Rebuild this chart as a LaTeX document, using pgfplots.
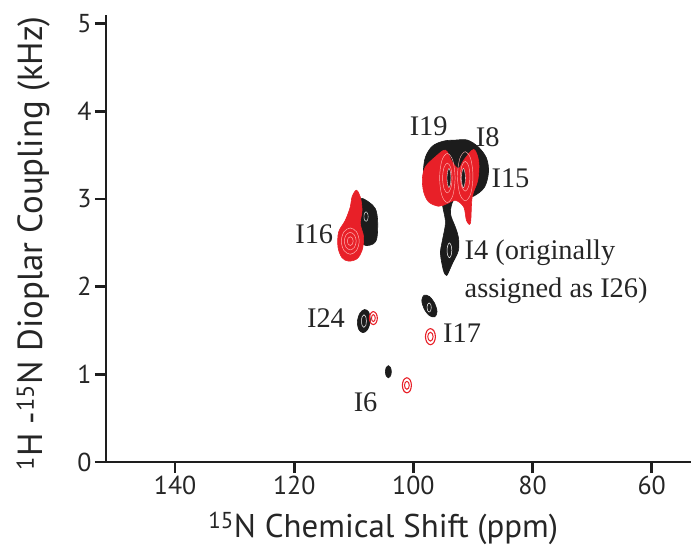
\documentclass[border=0pt]{standalone}
\usepackage{fontspec}
\setmainfont{Liberation Serif}
\setsansfont{PT Sans}
\usepackage{pgfplots}
\pgfplotsset{compat=1.18}
\definecolor{nmrred}{RGB}{232,32,40}
\definecolor{nmrpink}{RGB}{255,175,175}
\definecolor{nmrblk}{RGB}{28,28,28}
\definecolor{axgray}{RGB}{30,30,30}
\begin{document}
\begin{tikzpicture}
\begin{axis}[
  at={(0,0)}, anchor=south west,
  width=585bp, height=447bp, scale only axis,
  xmin=53.4, xmax=151.6, x dir=reverse,
  ymin=0, ymax=5.1,
  axis x line=bottom, axis y line=left,
  axis line style={-, line width=2.6bp, axgray},
  xtick={60,80,100,120,140}, ytick={0,1,2,3,4,5},
  tick align=outside, major tick length=11bp,
  every tick/.style={line width=2.6bp, axgray},
  tick label style={font=\sffamily\fontsize{26}{26}\selectfont, text=black!85},
  /pgf/number format/assume math mode=true,
  xlabel={\textsuperscript{15}N Chemical Shift (ppm)},
  ylabel={\textsuperscript{1}H -\textsuperscript{15}N Dioplar Coupling (kHz)},
  xlabel style={font=\sffamily\fontsize{33}{33}\selectfont, text=black!85,
    at={(axis description cs:0.474,-0.1685)}, anchor=base},
  ylabel style={font=\sffamily\fontsize{35}{35}\selectfont, text=black!85,
    at={(axis description cs:-0.1077,0.489)}, anchor=base, rotate=0},
  clip=false,
  tension=0.55,
]
% ---- black spectrum ----
\addplot[smooth cycle, fill=nmrblk, draw=nmrblk, line width=0.6bp] coordinates {
(92.94,3.673) (90.92,3.673) (89.08,3.593) (87.73,3.467) (87.39,3.307) (88.07,3.135)
(89.92,3.032) (92.10,2.998) (93.28,2.986) (93.78,2.838) (92.94,2.677) (92.44,2.563)
(92.44,2.414) (93.45,2.265) (94.12,2.162) (94.45,2.128) (94.96,2.185) (95.46,2.380)
(95.13,2.529) (94.62,2.723) (94.96,2.872) (95.46,2.986) (97.14,3.032) (97.98,3.146)
(98.32,3.307) (97.98,3.478) (96.81,3.604) (94.96,3.661)};
\addplot[smooth cycle, fill=nmrblk, draw=nmrblk, line width=0.6bp] coordinates {
(108.91,3.006) (107.51,2.967) (106.39,2.891) (106.00,2.757) (106.10,2.566)
(106.67,2.491) (108.07,2.471) (108.91,2.529) (109.19,2.681) (109.46,2.872)};
\addplot[smooth cycle, fill=nmrblk, draw=nmrblk, line width=0.6bp] coordinates {
(107.23,1.608) (107.50,1.710) (108.20,1.740) (108.95,1.700) (109.41,1.608)
(109.15,1.510) (108.45,1.476) (107.70,1.510)};
\addplot[smooth cycle, fill=nmrblk, draw=nmrblk, line width=0.6bp] coordinates {
(96.40,1.657) (96.03,1.715) (96.42,1.810) (97.31,1.888) (98.22,1.902)
(98.59,1.843) (98.20,1.748) (97.31,1.670)};
\addplot[smooth cycle, fill=nmrblk, draw=nmrblk, line width=0.6bp] coordinates {
(103.70,1.03) (103.85,1.08) (104.20,1.10) (104.55,1.08) (104.70,1.03)
(104.55,0.98) (104.20,0.96) (103.85,0.98)};
% white inner contour gaps in black peaks
\addplot[smooth cycle, draw=white, line width=0.5bp] coordinates {
(93.55,2.414) (93.67,2.470) (93.95,2.500) (94.23,2.470) (94.35,2.414)
(94.23,2.358) (93.95,2.330) (93.67,2.358)};
\addplot[smooth cycle, draw=white, line width=0.5bp] coordinates {
(97.00,1.760) (97.10,1.800) (97.35,1.815) (97.60,1.800) (97.70,1.760)
(97.60,1.725) (97.35,1.710) (97.10,1.725)};
\addplot[smooth cycle, draw=white, line width=0.5bp] coordinates {
(107.90,1.608) (108.00,1.660) (108.30,1.680) (108.60,1.660) (108.70,1.608)
(108.60,1.556) (108.30,1.536) (108.00,1.556)};
\addplot[smooth cycle, draw=white, line width=0.4bp] coordinates {
(107.60,2.80) (107.70,2.84) (107.95,2.855) (108.20,2.84) (108.30,2.80)
(108.20,2.76) (107.95,2.745) (107.70,2.76)};
% ---- red spectrum ----
\addplot[smooth cycle, fill=nmrred, draw=nmrred, line width=0.6bp] coordinates {
(94.62,3.558) (93.50,3.424) (92.39,3.349) (91.55,3.444) (89.87,3.566) (89.03,3.424)
(89.19,3.215) (90.13,3.024) (90.42,2.727) (91.09,2.757) (91.55,2.910) (92.94,2.986)
(94.34,2.948) (95.75,2.918) (97.43,2.967) (98.27,3.081) (98.49,3.235) (97.98,3.367)
(96.30,3.482)};
\addplot[smooth cycle, fill=nmrred, draw=nmrred, line width=0.6bp] coordinates {
(109.58,3.101) (108.91,3.024) (108.62,2.872) (108.91,2.720) (108.35,2.566)
(108.62,2.414) (109.46,2.319) (110.87,2.292) (111.98,2.331) (112.66,2.452)
(112.55,2.624) (111.43,2.757) (110.59,2.910) (110.30,3.024)};
% inner contour gaps, red peaks (elongated lobes)
\addplot[smooth cycle, draw=nmrpink, line width=0.45bp] coordinates {
(93.00,3.24) (93.38,3.44) (94.30,3.52) (95.22,3.44) (95.60,3.24)
(95.22,3.04) (94.30,2.96) (93.38,3.04)};
\addplot[smooth cycle, draw=nmrpink, line width=0.45bp] coordinates {
(93.50,3.24) (93.74,3.36) (94.30,3.41) (94.86,3.36) (95.10,3.24)
(94.86,3.12) (94.30,3.07) (93.74,3.12)};
\addplot[smooth cycle, draw=nmrpink, line width=0.45bp] coordinates {
(90.00,3.26) (90.38,3.46) (91.30,3.54) (92.22,3.46) (92.60,3.26)
(92.22,3.06) (91.30,2.98) (90.38,3.06)};
\addplot[smooth cycle, draw=nmrpink, line width=0.45bp] coordinates {
(90.50,3.26) (90.74,3.38) (91.30,3.43) (91.86,3.38) (92.10,3.26)
(91.86,3.14) (91.30,3.09) (90.74,3.14)};
\addplot[smooth cycle, fill=nmrblk, draw=white, line width=0.3bp] coordinates {
(93.70,3.24) (93.80,3.31) (94.03,3.35) (94.26,3.31) (94.36,3.24)
(94.26,3.17) (94.03,3.13) (93.80,3.17)};
\addplot[smooth cycle, fill=nmrblk, draw=white, line width=0.3bp] coordinates {
(91.27,3.24) (91.37,3.31) (91.60,3.35) (91.83,3.31) (91.93,3.24)
(91.83,3.17) (91.60,3.13) (91.37,3.17)};
\addplot[smooth cycle, draw=nmrpink, line width=0.5bp] coordinates {
(109.10,2.52) (109.54,2.626) (110.60,2.67) (111.66,2.626) (112.10,2.52)
(111.66,2.414) (110.60,2.37) (109.54,2.414)};
\addplot[smooth cycle, draw=nmrpink, line width=0.5bp] coordinates {
(109.60,2.52) (109.90,2.59) (110.60,2.62) (111.30,2.59) (111.60,2.52)
(111.30,2.45) (110.60,2.42) (109.90,2.45)};
\addplot[smooth cycle, draw=nmrpink, line width=0.5bp] coordinates {
(110.10,2.52) (110.25,2.555) (110.60,2.57) (110.95,2.555) (111.10,2.52)
(110.95,2.485) (110.60,2.47) (110.25,2.485)};
% small red peaks (ring contours)
\addplot[smooth cycle, draw=nmrred, line width=1.1bp] coordinates {
(106.05,1.642) (106.25,1.694) (106.72,1.716) (107.19,1.694) (107.39,1.642)
(107.19,1.590) (106.72,1.568) (106.25,1.590)};
\addplot[smooth cycle, draw=nmrred, line width=1.0bp] coordinates {
(106.40,1.642) (106.50,1.670) (106.72,1.682) (106.94,1.670) (107.04,1.642)
(106.94,1.614) (106.72,1.602) (106.50,1.614)};
\addplot[smooth cycle, draw=nmrred, line width=1.1bp] coordinates {
(96.30,1.430) (96.55,1.495) (97.14,1.522) (97.73,1.495) (97.98,1.430)
(97.73,1.365) (97.14,1.338) (96.55,1.365)};
\addplot[smooth cycle, draw=nmrred, line width=1.0bp] coordinates {
(96.69,1.430) (96.82,1.465) (97.14,1.480) (97.46,1.465) (97.59,1.430)
(97.46,1.395) (97.14,1.380) (96.82,1.395)};
\addplot[smooth cycle, draw=nmrred, line width=1.1bp] coordinates {
(100.33,0.875) (100.55,0.936) (101.09,0.961) (101.63,0.936) (101.85,0.875)
(101.63,0.814) (101.09,0.789) (100.55,0.814)};
\addplot[smooth cycle, draw=nmrred, line width=1.0bp] coordinates {
(100.69,0.875) (100.81,0.907) (101.09,0.920) (101.37,0.907) (101.49,0.875)
(101.37,0.843) (101.09,0.830) (100.81,0.843)};
% ---- labels ----
\begin{scope}[every node/.style={font=\fontsize{28.5}{28.5}\selectfont, text=black!85, inner sep=0pt}]
\node[anchor=base] at (axis cs:97.43,3.730) {I19};
\node[anchor=base] at (axis cs:87.51,3.596) {I8};
\node[anchor=base] at (axis cs:83.70,3.127) {I15};
\node[anchor=base] at (axis cs:116.64,2.491) {I16};
\node[anchor=base west] at (axis cs:91.43,2.311) {I4 (originally};
\node[anchor=base west] at (axis cs:91.43,1.876) {assigned as I26)};
\node[anchor=base] at (axis cs:114.67,1.537) {I24};
\node[anchor=base] at (axis cs:91.82,1.365) {I17};
\node[anchor=base] at (axis cs:108.02,0.572) {I6};
\end{scope}
\end{axis}
\pgfresetboundingbox
\path (-106bp,-84bp) rectangle (585bp,462bp);
\end{tikzpicture}
\end{document}
